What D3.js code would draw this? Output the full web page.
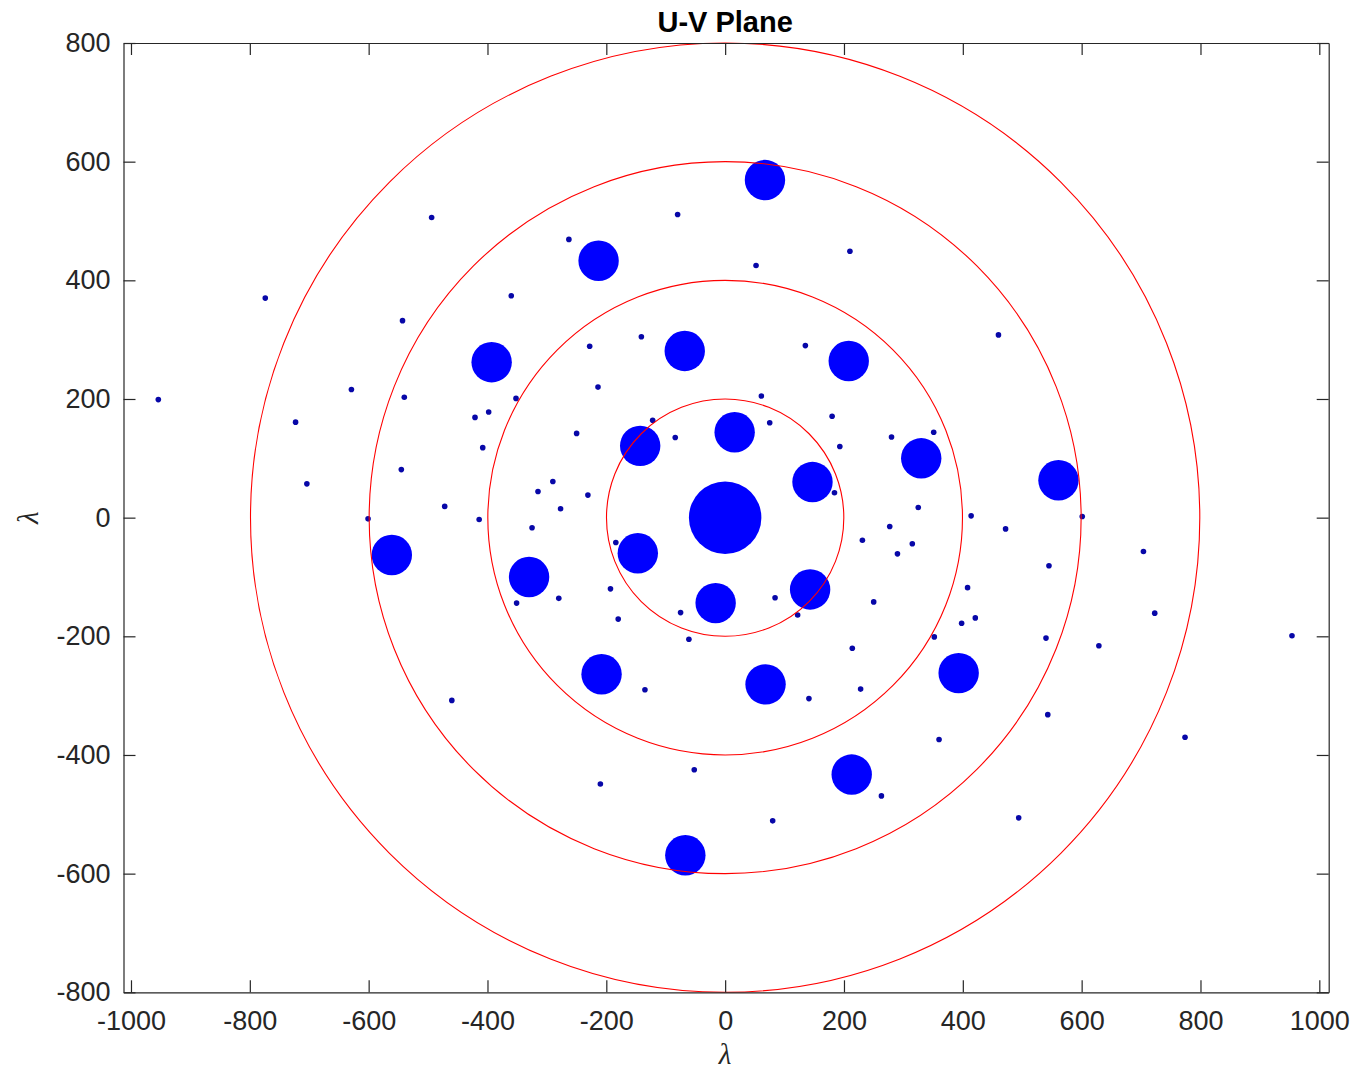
<!DOCTYPE html>
<html>
<head>
<meta charset="utf-8">
<script src="https://cdn.jsdelivr.net/npm/d3@7"></script>
<style>
  html, body { margin: 0; padding: 0; background: #fff; }
  svg { display: block; }
  .axis text { font-family: "Liberation Sans", Arial, Helvetica, sans-serif; font-size: 27px; fill: #262626; }
  .axis path, .axis line { stroke: #262626; stroke-width: 1.2; }
</style>
</head>
<body>
<div id="chart"></div>
<script>
// u-v coverage, in wavelengths
// big clusters (many samples piled on top of each other)
const blobU = [0, 67, -67, -213, 213, -393, 393, -68, 68, 208, -208, -143, 143, 16, -16, 147, -147, 330, -330, 561, -561];
const blobV = [0, 569, -569, 433, -433, 262, -262, 281, -281, 264, -264, 121, -121, 144, -144, 60, -60, 100, -100, 63, -63];
const blobSpread = [61, 34, 34, 34, 34, 34, 34, 34, 34, 34, 34, 34, 34, 34, 34, 34, 34, 34, 34, 34, 34];

// single samples
const dotU = [
  -494, -80, -263, -774, -360, -543, -141, -228, -214, -954, -629, -540, -352, -398,
  -421, -723, -122, -250, -84, -408, -545, -704, -290, -315, -231, -472, -277, -601,
  -414, -325, -184, -193, -280, -351, -180, -75, -61, -135, -460, -52, -210,
  494, 80, 263, 774, 360, 543, 141, 228, 214, 954, 629, 540, 352, 398,
  421, 723, 122, 250, 84, 408, 545, 704, 290, 315, 231, 472, 277, 601,
  414, 325, 184, 193, 280, 351, 180, 75, 61, 135, 460, 52, 210
];
const dotV = [
  506, 511, 469, 370, 374, 332, 305, 289, 220, 199, 216, 203, 201, 178,
  169, 161, 164, 142, 135, 118, 81, 57, 61, 44, 38, 19, 15, -2,
  -3, -17, -42, -120, -136, -144, -171, -160, -205, -290, -308, -425, -449,
  -506, -511, -469, -370, -374, -332, -305, -289, -220, -199, -216, -203, -201, -178,
  -169, -161, -164, -142, -135, -118, -81, -57, -61, -44, -38, -19, -15, 2,
  3, 17, 42, 120, 136, 144, 171, 160, 205, 290, 308, 425, 449
];

const ringRadii = [200, 400, 600, 800];
const xTicks = [-1000, -800, -600, -400, -200, 0, 200, 400, 600, 800, 1000];
const yTicks = [-800, -600, -400, -200, 0, 200, 400, 600, 800];

const width = 1356, height = 1072;
const plotLeft = 123.5, plotRight = 1328.7, plotTop = 43, plotBottom = 992.3;

const svg = d3.select("#chart").append("svg")
  .attr("width", width)
  .attr("height", height);

const x = d3.scaleLinear().domain([-1012.6, 1015.8]).range([plotLeft, plotRight]);
const y = d3.scaleLinear().domain([-800, 800]).range([plotBottom, plotTop]);

// plain hyphen minus, no thousands separator
const fmt = (d) => String(d);

const blobs = blobU.map((u, i) => ({ u: u, v: blobV[i], r: blobSpread[i] }));
const dots = dotU.map((u, i) => ({ u: u, v: dotV[i] }));

const plot = svg.append("g");

plot.append("g").selectAll("circle")
  .data(blobs)
  .enter()
  .append("circle")
  .attr("cx", (d) => x(d.u))
  .attr("cy", (d) => y(d.v))
  .attr("r", (d) => x(d.r) - x(0))
  .attr("fill", "#0000ff");

plot.append("g").selectAll("circle")
  .data(dots)
  .enter()
  .append("circle")
  .attr("cx", (d) => x(d.u))
  .attr("cy", (d) => y(d.v))
  .attr("r", 2.8)
  .attr("fill", "#0707a8");

// reference rings
plot.append("g").selectAll("circle")
  .data(ringRadii)
  .enter()
  .append("circle")
  .attr("cx", x(0))
  .attr("cy", y(0))
  .attr("r", (d) => y(0) - y(d))
  .attr("fill", "none")
  .attr("stroke", "#ff0000")
  .attr("stroke-width", 1.1);

// box with inward ticks
svg.append("g")
  .attr("class", "axis")
  .attr("transform", `translate(0,${plotBottom})`)
  .call(d3.axisBottom(x).tickValues(xTicks).tickFormat(fmt).tickSizeInner(-12).tickSizeOuter(0).tickPadding(19));

svg.append("g")
  .attr("class", "axis")
  .attr("transform", `translate(0,${plotTop})`)
  .call(d3.axisTop(x).tickValues(xTicks).tickSizeInner(-12).tickSizeOuter(0).tickFormat(""));

svg.append("g")
  .attr("class", "axis")
  .attr("transform", `translate(${plotLeft},0)`)
  .call(d3.axisLeft(y).tickValues(yTicks).tickFormat(fmt).tickSizeInner(-12).tickSizeOuter(0).tickPadding(13));

svg.append("g")
  .attr("class", "axis")
  .attr("transform", `translate(${plotRight},0)`)
  .call(d3.axisRight(y).tickValues(yTicks).tickSizeInner(-12).tickSizeOuter(0).tickFormat(""));

svg.selectAll(".axis .domain").attr("stroke", "#262626");

svg.append("text")
  .attr("x", x(0))
  .attr("y", 32)
  .attr("text-anchor", "middle")
  .style("font-family", "'Liberation Sans', Arial, Helvetica, sans-serif")
  .style("font-weight", "bold")
  .style("font-size", "29px")
  .attr("fill", "#000")
  .text("U-V Plane");

svg.append("text")
  .attr("x", x(0))
  .attr("y", 1064)
  .attr("text-anchor", "middle")
  .style("font-family", "'Liberation Serif', 'DejaVu Serif', serif")
  .style("font-style", "italic")
  .style("font-size", "29px")
  .attr("fill", "#262626")
  .text("λ");

svg.append("text")
  .attr("transform", `translate(38,${y(0)}) rotate(-90)`)
  .attr("text-anchor", "middle")
  .style("font-family", "'Liberation Serif', 'DejaVu Serif', serif")
  .style("font-style", "italic")
  .style("font-size", "29px")
  .attr("fill", "#262626")
  .text("λ");
</script>
</body>
</html>
